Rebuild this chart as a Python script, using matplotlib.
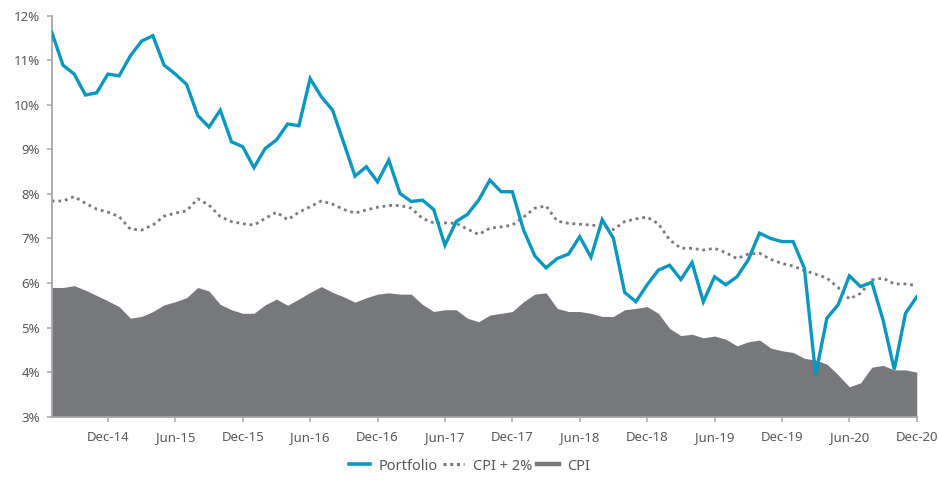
import matplotlib
matplotlib.use("Agg")
import matplotlib.pyplot as plt
from matplotlib.lines import Line2D
import numpy as np

months = ["Jul-14","Aug-14","Sep-14","Oct-14","Nov-14","Dec-14",
          "Jan-15","Feb-15","Mar-15","Apr-15","May-15","Jun-15","Jul-15","Aug-15","Sep-15","Oct-15","Nov-15","Dec-15",
          "Jan-16","Feb-16","Mar-16","Apr-16","May-16","Jun-16","Jul-16","Aug-16","Sep-16","Oct-16","Nov-16","Dec-16",
          "Jan-17","Feb-17","Mar-17","Apr-17","May-17","Jun-17","Jul-17","Aug-17","Sep-17","Oct-17","Nov-17","Dec-17",
          "Jan-18","Feb-18","Mar-18","Apr-18","May-18","Jun-18","Jul-18","Aug-18","Sep-18","Oct-18","Nov-18","Dec-18",
          "Jan-19","Feb-19","Mar-19","Apr-19","May-19","Jun-19","Jul-19","Aug-19","Sep-19","Oct-19","Nov-19","Dec-19",
          "Jan-20","Feb-20","Mar-20","Apr-20","May-20","Jun-20","Jul-20","Aug-20","Sep-20","Oct-20","Nov-20","Dec-20"]

portfolio = [11.63, 10.89, 10.69, 10.22, 10.27, 10.69, 10.65, 11.10, 11.43, 11.55,
             10.89, 10.69, 10.46, 9.76, 9.50, 9.88, 9.17, 9.06, 8.59, 9.02,
             9.21, 9.57, 9.53, 10.59, 10.18, 9.88, 9.14, 8.40, 8.61, 8.27,
             8.76, 8.01, 7.83, 7.86, 7.65, 6.85, 7.38, 7.54, 7.86, 8.31,
             8.05, 8.05, 7.19, 6.61, 6.34, 6.55, 6.65, 7.04, 6.58, 7.42,
             7.00, 5.79, 5.58, 5.96, 6.29, 6.40, 6.08, 6.46, 5.58, 6.14,
             5.96, 6.14, 6.52, 7.12, 7.00, 6.93, 6.93, 6.33, 3.94, 5.21,
             5.51, 6.16, 5.92, 6.02, 5.17, 4.06, 5.32, 5.69]

cpi_plus_2 = [7.84, 7.84, 7.94, 7.79, 7.66, 7.59, 7.49, 7.21, 7.19, 7.30,
              7.50, 7.57, 7.62, 7.89, 7.75, 7.49, 7.38, 7.33, 7.30, 7.45,
              7.59, 7.42, 7.59, 7.71, 7.84, 7.77, 7.65, 7.57, 7.64, 7.70,
              7.74, 7.74, 7.68, 7.45, 7.35, 7.35, 7.34, 7.21, 7.09, 7.23,
              7.26, 7.30, 7.48, 7.68, 7.73, 7.39, 7.34, 7.32, 7.30, 7.28,
              7.20, 7.38, 7.44, 7.48, 7.33, 6.97, 6.78, 6.78, 6.74, 6.78,
              6.68, 6.55, 6.65, 6.67, 6.53, 6.44, 6.38, 6.28, 6.20, 6.11,
              5.90, 5.64, 5.77, 6.07, 6.11, 5.98, 5.98, 5.94]

cpi = [5.90, 5.90, 5.94, 5.84, 5.72, 5.60, 5.47, 5.21, 5.25, 5.36,
       5.51, 5.58, 5.67, 5.90, 5.82, 5.52, 5.40, 5.32, 5.32, 5.51,
       5.64, 5.50, 5.64, 5.79, 5.92, 5.79, 5.69, 5.57, 5.67, 5.75,
       5.78, 5.75, 5.75, 5.52, 5.36, 5.40, 5.40, 5.21, 5.13, 5.28,
       5.32, 5.36, 5.58, 5.75, 5.78, 5.43, 5.36, 5.36, 5.32, 5.25,
       5.25, 5.40, 5.43, 5.47, 5.32, 4.98, 4.82, 4.85, 4.77, 4.81,
       4.74, 4.59, 4.68, 4.72, 4.54, 4.48, 4.44, 4.31, 4.27, 4.18,
       3.94, 3.67, 3.76, 4.11, 4.15, 4.05, 4.05, 4.00]

y_ticks = [3, 4, 5, 6, 7, 8, 9, 10, 11, 12]
x_tick_labels = ["Dec-14","Jun-15","Dec-15","Jun-16","Dec-16","Jun-17","Dec-17",
                 "Jun-18","Dec-18","Jun-19","Dec-19","Jun-20","Dec-20"]

plt.rcParams['font.family'] = ['Noto Sans', 'DejaVu Sans']

BLUE = "#0A98C2"
GRAY_AREA = "#77787B"
GRAY_DOT = "#7A7A7A"
TXT = "#595959"
AXC = "#A6A6A6"

fig = plt.figure(figsize=(9.39, 4.83), dpi=100)
ax = fig.add_axes([0.0551, 0.1373, 0.9763 - 0.0551, 0.9675 - 0.1373])

x = np.arange(len(months))
ax.fill_between(x, cpi, y_ticks[0], color=GRAY_AREA, linewidth=0, zorder=1)
ax.plot(x, cpi_plus_2, color=GRAY_DOT, lw=2.0, dashes=(1, 1.4),
        dash_capstyle='butt', zorder=2)
ax.plot(x, portfolio, color=BLUE, lw=2.4, solid_joinstyle='miter', zorder=3)

ax.set_xlim(0, len(months) - 1)
ax.set_ylim(y_ticks[0], y_ticks[-1])
ax.set_yticks(y_ticks)
ax.set_yticklabels([f"{v}%" for v in y_ticks])
tick_pos = [months.index(m) for m in x_tick_labels]
ax.set_xticks(tick_pos)
ax.set_xticklabels(x_tick_labels)

for s in ["top", "right"]:
    ax.spines[s].set_visible(False)
for s in ["left", "bottom"]:
    ax.spines[s].set_color(AXC)
    ax.spines[s].set_linewidth(1.3)
ax.tick_params(axis='both', colors=AXC, length=3.5, width=1.1, direction='out',
               labelcolor=TXT, labelsize=9.5)
ax.tick_params(axis='y', pad=5)
ax.tick_params(axis='x', pad=7)

handles = [Line2D([], [], color=BLUE, lw=2.6),
           Line2D([], [], color=GRAY_DOT, lw=2.2, dashes=(1, 1.2), dash_capstyle='butt'),
           Line2D([], [], color=GRAY_AREA, lw=3.2)]
fig.legend(handles, ["Portfolio", "CPI + 2%", "CPI"], loc='center',
           bbox_to_anchor=(0.5, 0.035), ncol=3, frameon=False,
           fontsize=10.5, labelcolor=TXT, handlelength=1.45,
           handletextpad=0.6, columnspacing=0.35)

fig.savefig("out.png", dpi=100)
